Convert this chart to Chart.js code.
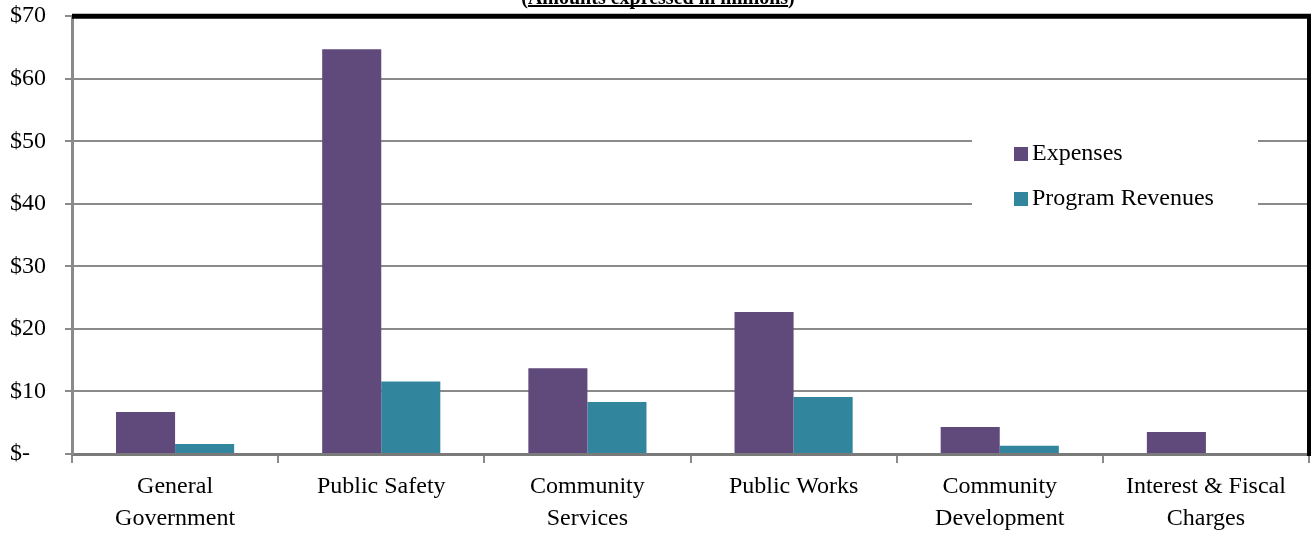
<!DOCTYPE html>
<html>
<head>
<meta charset="utf-8">
<script src="https://cdn.jsdelivr.net/npm/chart.js@4.4.0/dist/chart.umd.min.js"></script>
<style>
  html, body { margin: 0; padding: 0; background: #ffffff; }
  #wrap { width: 1311px; height: 536px; }
</style>
</head>
<body>
<div id="wrap"><canvas id="chart" width="1311" height="536"></canvas></div>
<script>
// data (millions of dollars)
const categories = [
    ['General', 'Government'],
    'Public Safety',
    ['Community', 'Services'],
    'Public Works',
    ['Community', 'Development'],
    ['Interest & Fiscal', 'Charges']
];
const expenses = [6.7, 64.7, 13.7, 22.7, 4.3, 3.5];
const programRevenues = [1.6, 11.6, 8.3, 9.1, 1.3, 0];
const yTicks = [0, 10, 20, 30, 40, 50, 60, 70];
const subtitle = '(Amounts expressed in millions)';

const serif = "'Liberation Serif', 'Times New Roman', serif";

// frame, subtitle and legend drawn on top of the chart
const decorPlugin = {
    id: 'decor',
    afterDraw: function(chart) {
        const ctx = chart.ctx;
        const area = chart.chartArea;
        ctx.save();

        // black frame on top and right
        ctx.strokeStyle = '#000000';
        ctx.lineWidth = 5;
        ctx.beginPath();
        ctx.moveTo(area.left, area.top);
        ctx.lineTo(chart.width, area.top);
        ctx.stroke();
        ctx.lineWidth = 4;
        ctx.beginPath();
        ctx.moveTo(area.right, area.top - 2);
        ctx.lineTo(area.right, area.bottom + 2);
        ctx.stroke();

        // subtitle, mostly cut off at the top
        ctx.font = 'bold 20px ' + serif;
        ctx.fillStyle = '#000000';
        ctx.textAlign = 'center';
        ctx.textBaseline = 'alphabetic';
        const cx = 658;
        ctx.fillText(subtitle, cx, 4);
        const w = ctx.measureText(subtitle).width;
        const pw = ctx.measureText('(').width;
        ctx.fillRect(cx - w / 2 + pw, 5, w - 2 * pw, 2);

        // legend box
        ctx.fillStyle = '#ffffff';
        ctx.fillRect(972, 118, 286, 108);
        ctx.font = '24px ' + serif;
        ctx.textAlign = 'left';
        ctx.textBaseline = 'middle';
        const rows = [154, 199];
        chart.data.datasets.forEach(function(ds, i) {
            ctx.fillStyle = ds.backgroundColor;
            ctx.fillRect(1014, rows[i] - 7, 14, 14);
            ctx.fillStyle = '#000000';
            ctx.fillText(ds.label, 1032, rows[i]);
        });
        ctx.restore();
    }
};

new Chart(document.getElementById('chart').getContext('2d'), {
    type: 'bar',
    data: {
        labels: categories,
        datasets: [{
            label: 'Expenses',
            data: expenses,
            backgroundColor: '#604a7b',
            barPercentage: 1,
            categoryPercentage: 0.573
        }, {
            label: 'Program Revenues',
            data: programRevenues,
            backgroundColor: '#31859c',
            barPercentage: 1,
            categoryPercentage: 0.573
        }]
    },
    options: {
        responsive: false,
        animation: false,
        layout: {
            padding: { left: 10, right: 2, top: 15, bottom: 0 }
        },
        plugins: {
            legend: { display: false },
            tooltip: { enabled: false }
        },
        scales: {
            x: {
                grid: {
                    offset: true,
                    drawOnChartArea: false,
                    drawTicks: true,
                    tickLength: 9,
                    color: '#8a8a8a',
                    lineWidth: 2
                },
                border: { color: '#7a7a7a', width: 3 },
                ticks: {
                    color: '#000000',
                    font: { family: serif, size: 24, lineHeight: 1.33 },
                    padding: 8,
                    maxRotation: 0,
                    autoSkip: false
                },
                afterFit: function(scale) { scale.height = 82; }
            },
            y: {
                min: 0,
                max: 70,
                afterBuildTicks: function(scale) {
                    scale.ticks = yTicks.map(function(v) { return { value: v }; });
                },
                grid: {
                    color: '#8a8a8a',
                    lineWidth: 2,
                    tickLength: 7
                },
                border: { color: '#8a8a8a', width: 3 },
                ticks: {
                    color: '#000000',
                    crossAlign: 'far',
                    font: { family: serif, size: 24, lineHeight: 1.1 },
                    callback: function(v) { return v === 0 ? '$-' : '$' + v; }
                },
                afterFit: function(scale) { scale.width = 62; }
            }
        }
    },
    plugins: [decorPlugin]
});
</script>
</body>
</html>
